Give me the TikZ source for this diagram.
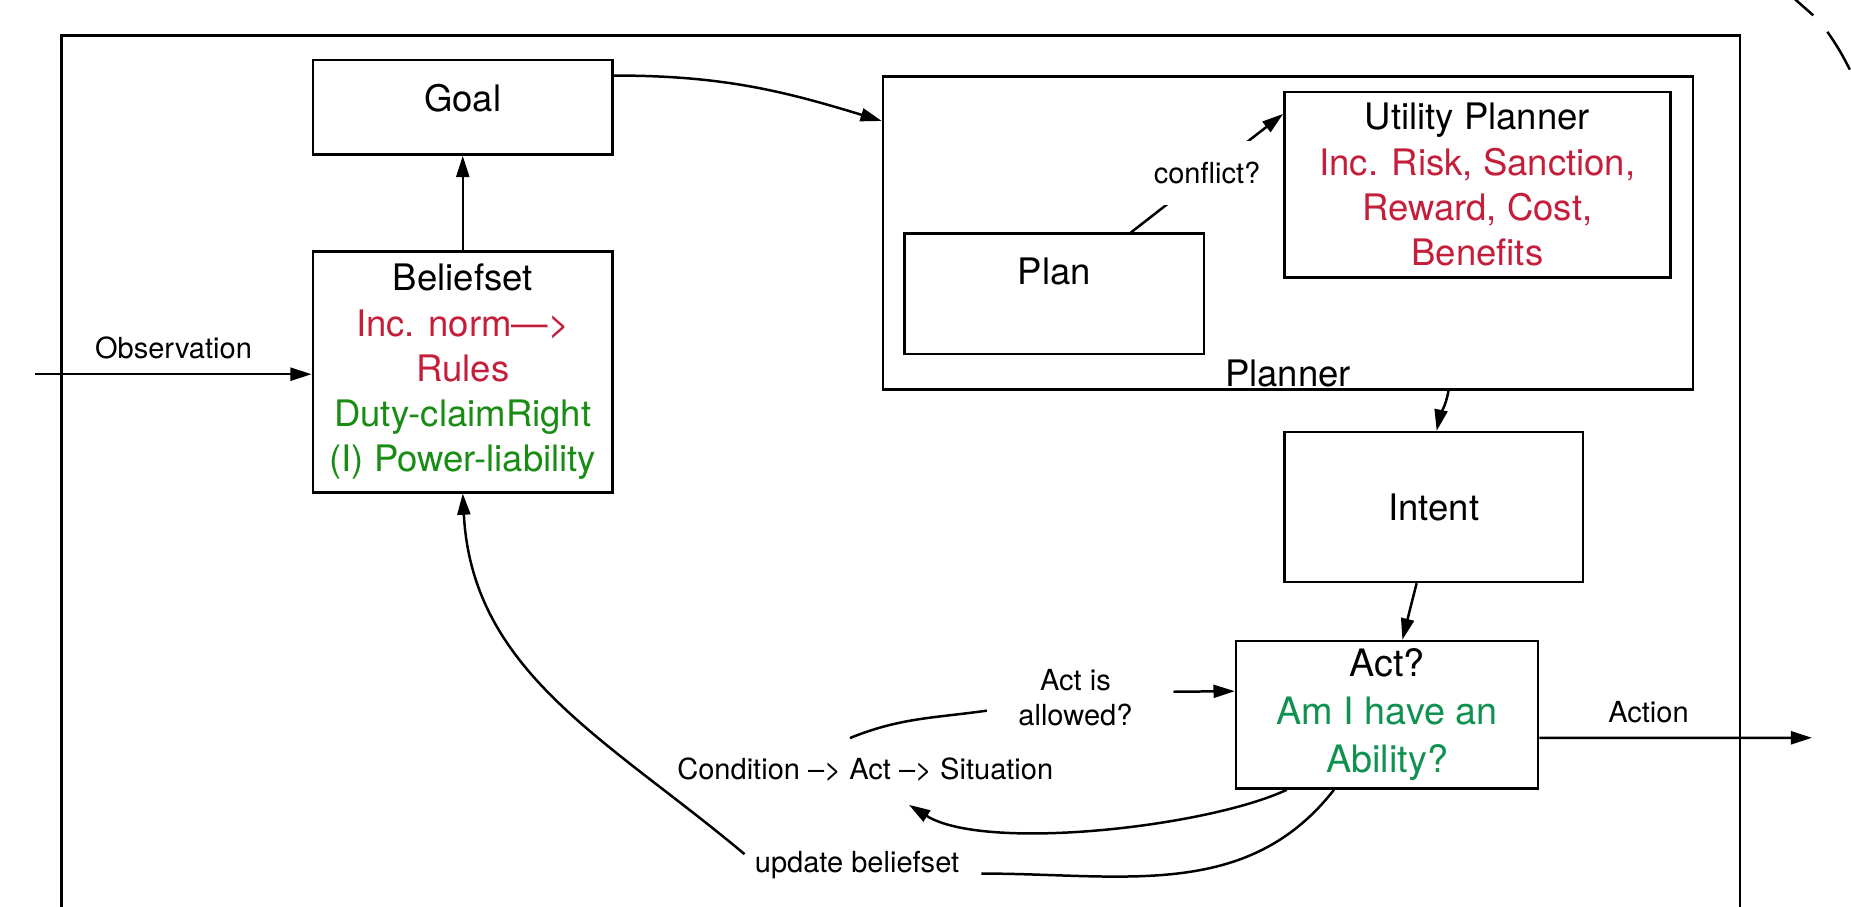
\documentclass[tikz,border=0pt]{standalone}
\usepackage{fontspec}
\setmainfont{TeX Gyre Heros}
\usepackage{tikz}
\usetikzlibrary{positioning,shapes,arrows.meta}
\definecolor{normred}{RGB}{196,30,58}
\definecolor{dutygreen}{RGB}{25,140,20}
\definecolor{ablegreen}{RGB}{16,145,80}
\tikzset{
        >={Triangle[length=1.8mm,width=1.1mm]}, % filled arrow heads
        box/.style={draw, fill=white, align=center, inner sep=0pt, font=\fontsize{8.8}{10.9}\selectfont}, % the boxes
        lbl/.style={font=\fontsize{7}{8.6}\selectfont, align=center}, % small texts on the edges
}
\begin{document}
\begin{tikzpicture}[->, line width=0.6pt]
\clip (0,0) rectangle (15.68,7.68);
% outer frame, open at the bottom
\draw[-] (0.52,-0.2) -- (0.52,7.38) -- (14.74,7.38) -- (14.74,-0.2);
% piece of a big circle at the top right
\draw[-] (15.19,7.70) -- (15.36,7.55);
\draw[-] (15.48,7.41) to[bend left=4] (15.67,7.09);

\node[box, minimum width=2.54cm, minimum height=0.8cm, text depth=1.6mm] (goal) at (3.92,6.77) {Goal};
\node[box, minimum width=2.54cm, minimum height=2.04cm] (belief) at (3.92,4.53) {Beliefset\\ \textcolor{normred}{Inc. norm\textemdash>}\\ \textcolor{normred}{Rules}\\ \textcolor{dutygreen}{Duty-claimRight}\\ \textcolor{dutygreen}{(I) Power-liability}};
\node[box, minimum width=6.86cm, minimum height=2.65cm] (planner) at (10.91,5.705) {};
\node[box, draw=none, fill=none, anchor=south, inner sep=0.5pt] (plannerlbl) at (planner.south) {Planner};
\node[box, minimum width=2.54cm, minimum height=1.02cm, text depth=3.8mm] (plan) at (8.93,5.19) {Plan};
\node[box, minimum width=3.27cm, minimum height=1.57cm] (utility) at (12.515,6.115) {Utility Planner\\ \textcolor{normred}{Inc. Risk, Sanction,}\\ \textcolor{normred}{Reward, Cost,}\\ \textcolor{normred}{Benefits}};
\node[box, minimum width=2.53cm, minimum height=1.27cm] (intent) at (12.145,3.385) {Intent};
\node[box, minimum width=2.56cm, minimum height=1.25cm, font=\fontsize{9.1}{11.5}\selectfont] (act) at (11.75,1.625) {Act?\\ \textcolor{ablegreen}{Am I have an}\\ \textcolor{ablegreen}{Ability?}};

\node[lbl] (cond) at (7.33,1.16) {Condition \textendash> Act \textendash> Situation};
\node[lbl] (allowed) at (9.11,1.77) {Act is\\allowed?};
\node[lbl] (update) at (7.26,0.35) {update beliefset};

\coordinate (obsin) at (0.30,4.51);
\coordinate (actout) at (15.35,1.43);
\draw (obsin) -- node[lbl, above] (obs) {Observation} (obsin -| belief.west);
\draw (belief) -- (goal);
\draw ([yshift=2.7mm]goal.east) to[out=0, in=163] ([yshift=9.5mm]planner.west);
\draw ([xshift=6.5mm]plan.north) -- node[lbl, fill=white, inner xsep=2pt, inner ysep=5pt] (conflict) {conflict?} ([yshift=6mm]utility.west);
\draw ([xshift=13.6mm]planner.south) to[out=-100, in=78] ([xshift=0.25mm]intent.north);
\draw ([xshift=-1.45mm]intent.south) -- ([xshift=1.3mm]act.north);
\draw ([yshift=-1.95mm]act.east) -- node[lbl, above, pos=0.4] (action) {Action} (actout);
\draw[-] ([xshift=-1.3mm,yshift=0.4mm]cond.north) to[out=22, in=188] ([xshift=-1.4mm,yshift=-1.1mm]allowed.west);
\draw ([xshift=2.2mm,yshift=0.5mm]allowed.east) -- ([yshift=2mm]act.west);
\draw ([xshift=-8.5mm]act.south) to[out=-155, in=-32, looseness=0.6] ([xshift=3.7mm,yshift=-0.7mm]cond.south);
\draw[-] ([xshift=-4.5mm]act.south) to[out=-128, in=0] ([xshift=0.6mm,yshift=-0.7mm]update.east);
\draw ([xshift=0.4mm,yshift=-1.5mm]update.north west) to[out=140, in=-87] (belief.south);
\end{tikzpicture}
\end{document}
